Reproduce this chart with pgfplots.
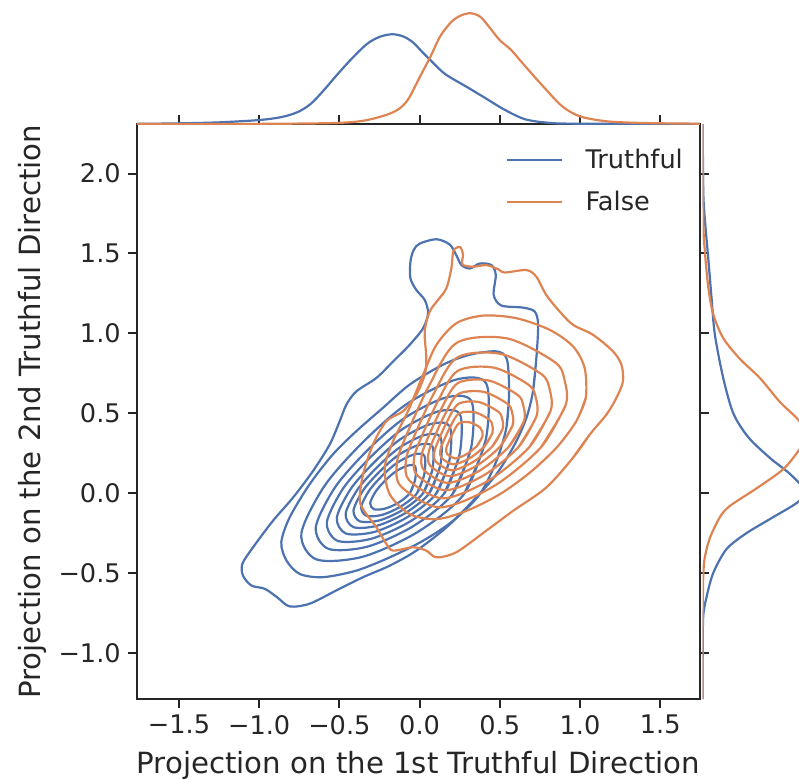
\documentclass[border=0pt]{standalone}
\usepackage{fontspec}
\setmainfont{DejaVu Sans}
\usepackage{pgfplots}
\pgfplotsset{compat=1.18}
\definecolor{sbblue}{HTML}{4C72B0}
\definecolor{sborange}{HTML}{DD8452}
\definecolor{spine}{HTML}{262626}

\begin{document}
\begin{tikzpicture}
% ---- joint KDE contours ----
\begin{axis}[
    name=main, at={(0,0)}, anchor=south west,
    scale only axis, width=281.5pt, height=287.5pt,
    xmin=-1.763, xmax=1.748, ymin=-1.29, ymax=2.31,
    xtick={-1.5,-1,-0.5,0,0.5,1,1.5},
    xticklabels={−1.5,−1.0,−0.5,0.0,0.5,1.0,1.5},
    ytick={-1,-0.5,0,0.5,1,1.5,2},
    yticklabels={−1.0,−0.5,0.0,0.5,1.0,1.5,2.0},
    tick align=outside, tick pos=both,
    xticklabel pos=lower, yticklabel pos=left,
    major tick length=4.5pt,
    every tick/.style={spine, line width=1pt},
    axis line style={spine, line width=1pt},
    tick label style={font=\fontsize{12.8}{15}\selectfont, text=spine},
    xlabel={Projection on the 1st Truthful Direction},
    ylabel={Projection on the 2nd Truthful Direction},
    label style={font=\fontsize{14.6}{17}\selectfont, text=spine, inner sep=0pt},
    xlabel style={at={(axis description cs:0.5,-0.0904)}, anchor=north},
    ylabel style={at={(axis description cs:-0.16,0.5)}, anchor=south},
    legend style={draw=none, fill=none, at={(0.988,0.972)}, anchor=north east,
        font=\fontsize{12.8}{15}\selectfont, text=spine, row sep=6pt,
        /tikz/every odd column/.append style={column sep=9pt}},
    legend cell align=left,
    legend image code/.code={\draw[#1] (0pt,0pt) -- (27.5pt,0pt);},
    every axis plot/.append style={line width=1.1pt, smooth},
]
% Truthful (blue)
\addplot[sbblue] coordinates {
(0.728,0.845) (0.707,0.637) (0.666,0.471) (0.593,0.305) (0.479,0.118) (0.333,-0.048)
(0.167,-0.215) (-0.020,-0.360) (-0.186,-0.454) (-0.352,-0.526) (-0.519,-0.609) (-0.685,-0.692)
(-0.810,-0.709) (-0.889,-0.651) (-0.965,-0.599) (-1.049,-0.578) (-1.101,-0.516) (-1.105,-0.443)
(-1.038,-0.339) (-0.914,-0.173) (-0.789,-0.028) (-0.664,0.139) (-0.560,0.305) (-0.498,0.450)
(-0.456,0.554) (-0.394,0.637) (-0.269,0.721) (-0.165,0.824) (-0.062,0.928) (0.022,1.032)
(0.053,1.126) (0.032,1.209) (-0.020,1.271) (-0.057,1.344) (-0.057,1.448) (-0.037,1.521)
(0.001,1.562) (0.105,1.589) (0.188,1.556) (0.229,1.489) (0.261,1.427) (0.313,1.406)
(0.375,1.437) (0.448,1.427) (0.475,1.365) (0.462,1.240) (0.510,1.174) (0.645,1.161)
(0.718,1.136) (0.739,1.053) (0.728,0.845) (0.707,0.637)};
\addlegendentry{Truthful}
\addplot[sbblue, forget plot] coordinates {
(0.558,0.617) (0.541,0.409) (0.479,0.201) (0.375,-0.007) (0.209,-0.173) (0.022,-0.298)
(-0.186,-0.402) (-0.394,-0.485) (-0.602,-0.526) (-0.747,-0.506) (-0.830,-0.422) (-0.862,-0.308)
(-0.810,-0.152) (-0.685,0.056) (-0.540,0.243) (-0.394,0.388) (-0.228,0.534) (-0.062,0.679)
(0.146,0.804) (0.313,0.866) (0.479,0.887) (0.545,0.835) (0.558,0.617) (0.541,0.409)};
\addplot[sbblue, forget plot] coordinates {
(0.413,0.335) (0.277,-0.006) (-0.013,-0.244) (-0.354,-0.398) (-0.643,-0.415) (-0.737,-0.253)
(-0.592,0.046) (-0.354,0.318) (-0.081,0.557) (0.226,0.710) (0.416,0.685) (0.413,0.335) (0.277,-0.006)};
\addplot[sbblue, forget plot] coordinates {
(0.321,0.282) (0.206,-0.005) (-0.038,-0.206) (-0.325,-0.335) (-0.568,-0.349) (-0.647,-0.213)
(-0.525,0.039) (-0.325,0.268) (-0.095,0.469) (0.163,0.598) (0.323,0.576) (0.321,0.282) (0.206,-0.005)};
\addplot[sbblue, forget plot] coordinates {
(0.249,0.241) (0.152,-0.004) (-0.057,-0.176) (-0.302,-0.286) (-0.510,-0.299) (-0.578,-0.182)
(-0.474,0.033) (-0.302,0.229) (-0.106,0.401) (0.115,0.511) (0.252,0.493) (0.249,0.241) (0.152,-0.004)};
\addplot[sbblue, forget plot] coordinates {
(0.186,0.205) (0.103,-0.004) (-0.074,-0.149) (-0.282,-0.243) (-0.459,-0.253) (-0.516,-0.154)
(-0.428,0.028) (-0.282,0.194) (-0.116,0.340) (0.072,0.433) (0.188,0.418) (0.186,0.205) (0.103,-0.004)};
\addplot[sbblue, forget plot] coordinates {
(0.129,0.172) (0.059,-0.003) (-0.089,-0.125) (-0.264,-0.204) (-0.412,-0.213) (-0.461,-0.129)
(-0.386,0.024) (-0.264,0.163) (-0.125,0.285) (0.033,0.364) (0.130,0.351) (0.129,0.172) (0.059,-0.003)};
\addplot[sbblue, forget plot] coordinates {
(0.079,0.143) (0.021,-0.002) (-0.103,-0.104) (-0.248,-0.170) (-0.372,-0.177) (-0.412,-0.108)
(-0.350,0.020) (-0.248,0.136) (-0.132,0.238) (-0.001,0.303) (0.080,0.292) (0.079,0.143) (0.021,-0.002)};
\addplot[sbblue, forget plot] coordinates {
(0.029,0.115) (-0.017,-0.002) (-0.116,-0.083) (-0.233,-0.136) (-0.332,-0.142) (-0.364,-0.086)
(-0.314,0.016) (-0.233,0.109) (-0.140,0.190) (-0.035,0.242) (0.030,0.234) (0.029,0.115) (-0.017,-0.002)};
\addplot[sbblue, forget plot] coordinates {
(-0.028,0.082) (-0.061,-0.001) (-0.132,-0.060) (-0.215,-0.097) (-0.285,-0.101) (-0.308,-0.062)
(-0.273,0.011) (-0.215,0.078) (-0.148,0.136) (-0.073,0.173) (-0.027,0.167) (-0.028,0.082) (-0.061,-0.001)};
% False (orange)
\addplot[sborange] coordinates {
(1.061,0.367) (0.957,0.222) (0.790,0.035) (0.583,-0.111) (0.416,-0.235) (0.229,-0.370)
(0.105,-0.402) (0.042,-0.360) (-0.041,-0.339) (-0.165,-0.360) (-0.207,-0.318) (-0.269,-0.214)
(-0.332,-0.131) (-0.373,-0.048) (-0.352,0.118) (-0.290,0.305) (-0.207,0.450) (-0.103,0.513)
(-0.020,0.617) (0.032,0.741) (0.042,0.845) (0.032,1.011) (0.063,1.136) (0.115,1.209)
(0.167,1.282) (0.198,1.406) (0.209,1.510) (0.229,1.535) (0.254,1.539) (0.271,1.494)
(0.267,1.431) (0.333,1.417) (0.416,1.427) (0.489,1.402) (0.531,1.381) (0.666,1.396)
(0.728,1.354) (0.790,1.240) (0.874,1.136) (0.957,1.053) (1.081,0.991) (1.206,0.887)
(1.258,0.804) (1.268,0.700) (1.227,0.596) (1.165,0.492) (1.061,0.367) (0.957,0.222)};
\addlegendentry{False}
\addplot[sborange, forget plot] coordinates {
(1.036,0.596) (0.977,0.450) (0.853,0.284) (0.687,0.128) (0.500,-0.007) (0.292,-0.111)
(0.105,-0.163) (-0.062,-0.131) (-0.186,-0.007) (-0.217,0.159) (-0.165,0.326) (-0.072,0.513)
(0.022,0.741) (0.105,0.928) (0.229,1.063) (0.396,1.111) (0.603,1.095) (0.811,1.022)
(0.957,0.918) (1.029,0.783) (1.036,0.596) (0.977,0.450)};
\addplot[sborange, forget plot] coordinates {
(0.910,0.549) (0.757,0.287) (0.460,0.042) (0.128,-0.089) (-0.116,0.042) (-0.142,0.182)
(-0.099,0.322) (0.058,0.670) (0.232,0.941) (0.547,0.968) (0.844,0.819) (0.904,0.706)
(0.910,0.549) (0.757,0.287)};
\addplot[sborange, forget plot] coordinates {
(0.816,0.513) (0.684,0.288) (0.430,0.079) (0.146,-0.033) (-0.064,0.079) (-0.086,0.198)
(-0.049,0.319) (0.086,0.618) (0.235,0.849) (0.504,0.872) (0.759,0.745) (0.811,0.648)
(0.816,0.513) (0.684,0.288)};
\addplot[sborange, forget plot] coordinates {
(0.729,0.481) (0.618,0.290) (0.403,0.113) (0.162,0.018) (-0.016,0.113) (-0.035,0.214)
(-0.003,0.316) (0.111,0.569) (0.237,0.765) (0.465,0.785) (0.681,0.677) (0.725,0.595)
(0.729,0.481) (0.618,0.290)};
\addplot[sborange, forget plot] coordinates {
(0.651,0.451) (0.558,0.292) (0.378,0.143) (0.176,0.064) (0.028,0.143) (0.012,0.228)
(0.038,0.313) (0.134,0.525) (0.239,0.689) (0.430,0.705) (0.611,0.615) (0.647,0.546)
(0.651,0.451) (0.558,0.292)};
\addplot[sborange, forget plot] coordinates {
(0.580,0.424) (0.503,0.293) (0.355,0.171) (0.189,0.106) (0.067,0.171) (0.054,0.241)
(0.076,0.311) (0.154,0.485) (0.241,0.620) (0.398,0.634) (0.547,0.560) (0.577,0.503)
(0.580,0.424) (0.503,0.293)};
\addplot[sborange, forget plot] coordinates {
(0.517,0.401) (0.455,0.295) (0.335,0.196) (0.201,0.143) (0.102,0.196) (0.091,0.252)
(0.109,0.309) (0.172,0.450) (0.243,0.559) (0.370,0.570) (0.490,0.510) (0.515,0.464)
(0.517,0.401) (0.455,0.295)};
\addplot[sborange, forget plot] coordinates {
(0.454,0.377) (0.407,0.296) (0.315,0.220) (0.212,0.180) (0.137,0.220) (0.129,0.263)
(0.142,0.307) (0.191,0.415) (0.245,0.498) (0.342,0.507) (0.434,0.461) (0.453,0.426)
(0.454,0.377) (0.407,0.296)};
\addplot[sborange, forget plot] coordinates {
(0.391,0.353) (0.359,0.297) (0.295,0.245) (0.224,0.217) (0.172,0.245) (0.166,0.275)
(0.175,0.305) (0.209,0.379) (0.246,0.437) (0.314,0.443) (0.377,0.411) (0.390,0.387)
(0.391,0.353) (0.359,0.297)};
\end{axis}

% ---- top marginal KDE ----
\begin{axis}[
    at={(0,287.5pt)}, anchor=south west,
    scale only axis, width=281.5pt, height=62pt,
    xmin=-1.763, xmax=1.748, ymin=0, ymax=373,
    hide axis,
    every axis plot/.append style={line width=1.1pt, smooth},
]
\addplot[sbblue] coordinates {
(-1.763,0.5) (-1.5,2) (-1.25,5) (-1.0,12) (-0.86,21) (-0.76,36) (-0.68,60) (-0.60,100)
(-0.52,145) (-0.43,193) (-0.33,240) (-0.25,262) (-0.17,270) (-0.10,263) (-0.04,245)
(0.02,215) (0.08,186) (0.16,150) (0.30,110) (0.41,78) (0.53,43) (0.66,14) (0.82,3)
(1.0,1) (1.748,0)};
\addplot[sborange] coordinates {
(-1.763,0) (-1.0,0.5) (-0.53,3) (-0.35,10) (-0.21,27) (-0.13,45) (-0.07,75) (0.0,140)
(0.07,205) (0.13,265) (0.20,308) (0.26,327) (0.32,333) (0.38,322) (0.44,288) (0.50,252)
(0.57,223) (0.66,173) (0.78,108) (0.89,53) (1.0,23) (1.17,8) (1.4,3) (1.748,1)};
\end{axis}

% ---- right marginal KDE ----
\begin{axis}[
    at={(282.8pt,0)}, anchor=south west,
    scale only axis, width=48.2pt, height=287.5pt,
    xmin=0, xmax=289, ymin=-1.29, ymax=2.31,
    hide axis,
    every axis plot/.append style={line width=1.1pt, smooth},
]
\addplot[sbblue] coordinates {
(0.5,2.31) (2,1.89) (7,1.71) (17,1.47) (27,1.22) (37,0.99) (62,0.72) (92,0.50) (137,0.35)
(202,0.22) (262,0.12) (300,0.03) (289,-0.05) (212,-0.15) (132,-0.25) (72,-0.35) (32,-0.50)
(12,-0.65) (2,-0.77) (0.3,-1.0) (0,-1.29)};
\addplot[sborange] coordinates {
(0.5,2.31) (2,1.71) (7,1.51) (17,1.29) (32,1.12) (62,0.97) (112,0.84) (172,0.72) (232,0.57)
(282,0.47) (318,0.37) (289,0.27) (242,0.15) (162,0.03) (82,-0.08) (52,-0.15) (22,-0.28)
(7,-0.40) (2,-0.52) (0.3,-0.8) (0,-1.29)};
\end{axis}
% keep the full extent of the marginal panels in the picture
\path (0pt,349.5pt) (331pt,0pt);
\path (current bounding box.west) ++(-9pt,0pt);
\end{tikzpicture}
\end{document}
